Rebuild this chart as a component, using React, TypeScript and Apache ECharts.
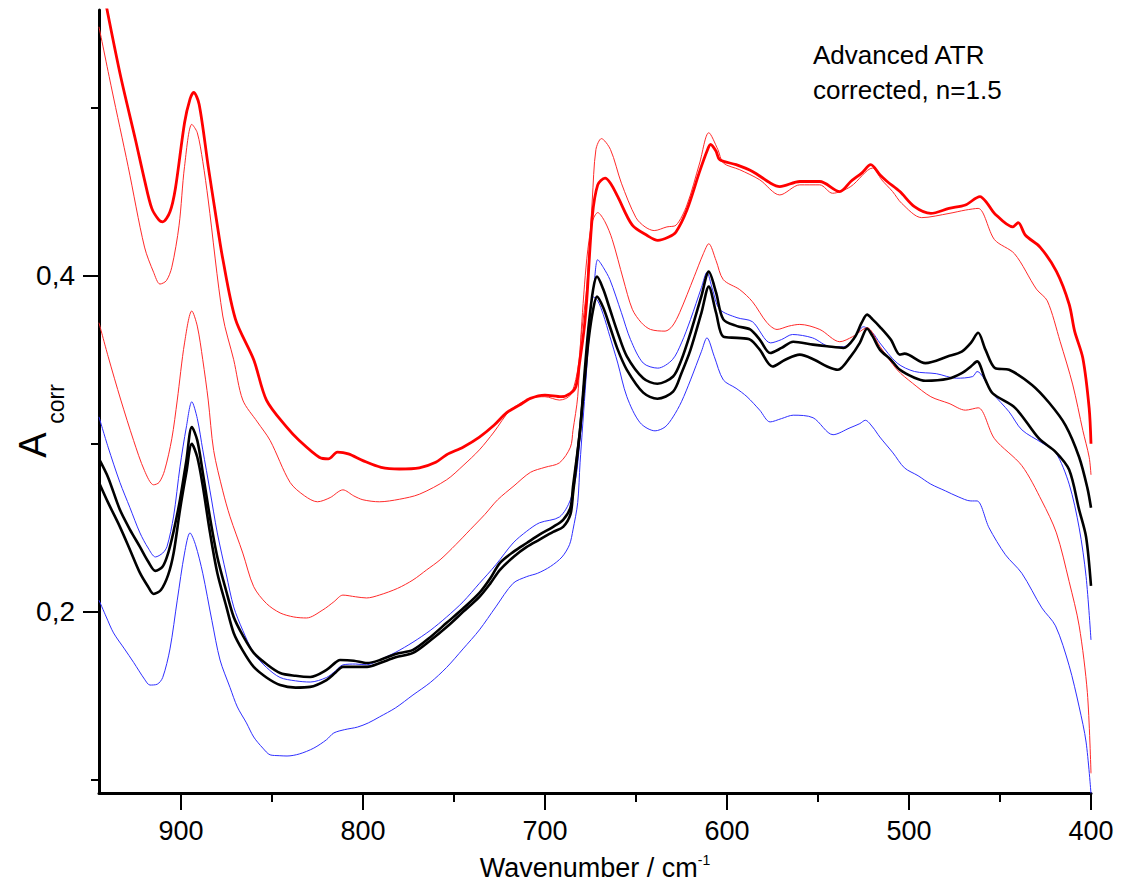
import React, { useEffect, useRef } from "react";
import * as echarts from "echarts";

// Wavenumber (cm-1) vs A_corr
const redThick: number[][] = [
  [945, 0.583], [940, 0.555], [933, 0.518], [925, 0.481], [920, 0.457], [916, 0.44], [912, 0.433], [910, 0.432],
  [906, 0.438], [903, 0.452], [898, 0.491], [895, 0.505], [893, 0.509], [890, 0.502], [885, 0.465], [881, 0.437],
  [877, 0.41], [870, 0.374], [860, 0.35], [853, 0.326], [842, 0.31], [835, 0.302], [824, 0.292], [819, 0.291],
  [814, 0.295], [808, 0.294], [800, 0.29], [790, 0.286], [780, 0.285], [769, 0.2857], [760, 0.289], [754, 0.2935],
  [745, 0.298], [736, 0.304], [728, 0.311], [721, 0.3185], [714, 0.323], [708, 0.327], [700, 0.329], [691, 0.328],
  [686, 0.33], [683, 0.334], [681, 0.348], [678.5, 0.368], [677, 0.386], [674, 0.435], [671, 0.454], [667, 0.458],
  [664, 0.455], [660, 0.447], [652, 0.43], [644, 0.424], [638, 0.421], [632, 0.423], [628, 0.426], [622, 0.439],
  [615, 0.462], [611, 0.474], [609, 0.478], [606, 0.474], [604, 0.469], [595, 0.466], [586, 0.462], [576, 0.455],
  [571, 0.453], [560, 0.456], [549, 0.456], [538, 0.45], [532, 0.456], [526, 0.461], [521, 0.466], [516, 0.46],
  [512, 0.456], [505, 0.45], [497, 0.441], [488, 0.437], [478, 0.44], [469, 0.442], [461, 0.447], [457, 0.443],
  [453, 0.437], [443, 0.429], [440, 0.4315], [436, 0.424], [428, 0.417], [419, 0.4025], [412, 0.383], [409, 0.367],
  [404.5, 0.351], [401, 0.321], [400, 0.3],
];

const redThin1: number[][] = [
  [945, 0.548], [938, 0.511], [929, 0.465], [920, 0.417], [915, 0.402], [911.5, 0.395], [908, 0.397], [905, 0.405],
  [901, 0.43], [898, 0.465], [894, 0.49], [891, 0.485], [888, 0.468], [885, 0.445], [877, 0.376], [871, 0.35],
  [866, 0.326], [858, 0.313], [851, 0.302], [840, 0.277], [832, 0.269], [825, 0.2655], [818, 0.268], [811, 0.2726],
  [805, 0.269], [800, 0.2667], [791, 0.2655], [780, 0.267], [769, 0.27], [754, 0.2786], [745, 0.287], [736, 0.2964],
  [728, 0.307], [719, 0.32], [708, 0.327], [700, 0.328], [692, 0.326], [686, 0.329], [682, 0.344], [680, 0.365],
  [677, 0.3935], [674, 0.445], [672, 0.475], [669, 0.4815], [664, 0.475], [658, 0.455], [650, 0.4345], [645, 0.429],
  [640, 0.4268], [633, 0.429], [628, 0.43], [622, 0.442], [615, 0.467], [610, 0.485], [605, 0.475], [602, 0.467],
  [593, 0.463], [582, 0.457], [571, 0.448], [560, 0.454], [549, 0.454], [542, 0.449], [532, 0.453], [520, 0.464],
  [515, 0.457], [509, 0.45], [504, 0.443], [493, 0.4345], [478, 0.437], [469, 0.439], [462, 0.44], [453, 0.4214],
  [442, 0.413], [430, 0.392], [424, 0.385], [417, 0.361], [410, 0.335], [404.5, 0.308], [401, 0.292], [400, 0.2815],
];

const redThin2: number[][] = [
  [945, 0.372], [940, 0.352], [933, 0.326], [926, 0.302], [920, 0.284], [915, 0.2756], [912, 0.277], [909, 0.284],
  [905, 0.303], [902, 0.326], [898, 0.36], [894, 0.379], [891, 0.37], [888, 0.35], [885, 0.326], [882, 0.296],
  [877, 0.272], [873, 0.2566], [866, 0.235], [860, 0.215], [853, 0.205], [845.5, 0.1994], [838, 0.197], [831, 0.1964],
  [822, 0.2012], [816, 0.206], [811, 0.21], [804, 0.209], [798, 0.2083], [791, 0.21], [781, 0.214], [772.5, 0.219],
  [765, 0.225], [757.6, 0.231], [749, 0.24], [741, 0.249], [733, 0.258], [726, 0.2667], [717, 0.275], [708, 0.283],
  [700, 0.286], [692, 0.2887], [686, 0.298], [684.6, 0.308], [682, 0.328], [680, 0.368], [677, 0.41], [674, 0.432],
  [671, 0.4375], [667, 0.432], [663, 0.4214], [657, 0.398], [652, 0.38], [647, 0.372], [642, 0.368], [634, 0.367],
  [630, 0.37], [626, 0.378], [618, 0.3994], [613, 0.413], [610, 0.419], [606, 0.409], [602, 0.3976], [593, 0.3917],
  [586, 0.3845], [578, 0.372], [572.5, 0.368], [566, 0.37], [560, 0.371], [549, 0.368], [538, 0.3607], [531, 0.3637],
  [523, 0.369], [516, 0.358], [506.5, 0.344], [498, 0.336], [488, 0.328], [478, 0.324], [469, 0.32], [462, 0.3214],
  [453, 0.303], [438, 0.287], [427, 0.266], [419, 0.247], [412, 0.218], [406.5, 0.1917], [402, 0.152], [400, 0.104],
];

const blueThin1: number[][] = [
  [945, 0.316], [940, 0.298], [933.5, 0.277], [928, 0.262], [922.5, 0.247], [918, 0.238], [914, 0.2327], [910, 0.235],
  [907.6, 0.239], [904, 0.257], [900.5, 0.2863], [897, 0.31], [894, 0.325], [891, 0.315], [888, 0.2964], [884, 0.272],
  [880, 0.247], [875, 0.222], [871, 0.203], [866, 0.189], [860, 0.1756], [853, 0.167], [845.5, 0.161], [837, 0.159],
  [829, 0.1583], [820, 0.161], [815, 0.165], [811, 0.1685], [804, 0.169], [798, 0.1685], [791, 0.1714], [782, 0.176],
  [772.5, 0.182], [763, 0.189], [754, 0.197], [745, 0.206], [736, 0.217], [727, 0.228], [717.5, 0.241], [710, 0.248],
  [703, 0.253], [692, 0.2565], [686, 0.2667], [682.4, 0.2845], [679, 0.328], [676.3, 0.368], [673, 0.395], [671, 0.4095],
  [668, 0.405], [664.3, 0.3976], [658, 0.378], [653, 0.362], [646, 0.348], [638, 0.345], [630, 0.35], [625, 0.36],
  [620, 0.374], [614, 0.393], [611, 0.402], [608, 0.392], [604, 0.38], [594.5, 0.375], [586, 0.3726], [576, 0.36],
  [570, 0.362], [564, 0.365], [553, 0.363], [543, 0.3577], [536, 0.3577], [530, 0.363], [525, 0.3696], [520, 0.366],
  [516, 0.36], [506.5, 0.348], [497, 0.343], [485, 0.3417], [474, 0.339], [465, 0.34], [462.6, 0.343], [454, 0.33],
  [445, 0.319], [438, 0.3083], [427, 0.3006], [419.5, 0.295], [412, 0.276], [406.5, 0.25], [402.7, 0.221], [400, 0.1833],
];

const blueThin2: number[][] = [
  [945, 0.207], [941, 0.197], [937, 0.1875], [931, 0.178], [926, 0.17], [920, 0.16], [917, 0.1565], [913, 0.157],
  [910, 0.161], [906, 0.178], [902, 0.207], [898, 0.235], [895, 0.247], [892, 0.24], [888, 0.223], [883, 0.195],
  [878.5, 0.1714], [873, 0.155], [869, 0.1435], [864, 0.134], [860, 0.1256], [855, 0.119], [851, 0.115], [846, 0.1145],
  [841.7, 0.1143], [835, 0.1155], [827, 0.119], [820, 0.124], [816, 0.128], [810, 0.13], [803, 0.1315], [797, 0.134],
  [791, 0.1375], [782, 0.143], [772.5, 0.1506], [763, 0.158], [754, 0.167], [745, 0.178], [736, 0.1893], [727, 0.203],
  [717.5, 0.217], [710, 0.221], [704, 0.223], [697, 0.227], [690.6, 0.2327], [686.5, 0.24], [684.6, 0.2488], [682, 0.265],
  [680.7, 0.2887], [678, 0.33], [676, 0.36], [673.6, 0.3875], [671, 0.385], [668, 0.377], [664.3, 0.3637], [660, 0.348],
  [655, 0.328], [647.7, 0.3125], [639.5, 0.3077], [634, 0.31], [629.6, 0.316], [625, 0.325], [620, 0.338], [614, 0.355],
  [611, 0.363], [607, 0.352], [602, 0.338], [595, 0.333], [589, 0.328], [582, 0.32], [576.3, 0.313], [570, 0.315],
  [563.6, 0.317], [552.7, 0.3155], [541.7, 0.3054], [532.4, 0.3095], [527, 0.312], [524, 0.314], [520, 0.31], [516, 0.304],
  [508.8, 0.2946], [502.5, 0.2857], [495, 0.281], [488, 0.276], [480, 0.272], [473, 0.2685], [466, 0.266], [462.6, 0.266],
  [456, 0.25], [447, 0.234], [438, 0.223], [427, 0.2024], [419.5, 0.1917], [412, 0.168], [406.5, 0.1435], [402.7, 0.1226],
  [400, 0.092],
];

const blackThick1: number[][] = [
  [945, 0.291], [940, 0.28], [933.5, 0.2607], [928, 0.249], [922.5, 0.2387], [918, 0.23], [914, 0.2244], [910, 0.227],
  [907, 0.235], [904, 0.248], [900.5, 0.2667], [897, 0.29], [894, 0.31], [891, 0.302], [888, 0.283], [884, 0.256],
  [880, 0.2327], [875, 0.212], [871, 0.197], [866, 0.186], [860, 0.1756], [853, 0.169], [845.5, 0.1637], [837, 0.162],
  [829, 0.1613], [820, 0.1655], [815, 0.17], [812.6, 0.1714], [805, 0.171], [797.7, 0.1696], [790.6, 0.1714], [782, 0.175],
  [772.5, 0.1774], [763, 0.185], [754, 0.1935], [745, 0.202], [736, 0.2113], [730, 0.22], [724.7, 0.2292], [717, 0.236],
  [710, 0.241], [703, 0.246], [695.5, 0.2506], [690, 0.2548], [686, 0.262], [684.6, 0.2744], [680.7, 0.3083], [678, 0.345],
  [676, 0.37], [673.5, 0.392], [671.4, 0.3994], [668, 0.392], [664.3, 0.38], [660, 0.366], [655, 0.352], [646, 0.339],
  [638.2, 0.3357], [629.6, 0.34], [625, 0.35], [620, 0.366], [614, 0.388], [610, 0.4024], [606, 0.39], [602, 0.374],
  [594.5, 0.37], [587.3, 0.368], [582, 0.362], [576.3, 0.354], [570, 0.357], [563.6, 0.3607], [552.7, 0.359], [545, 0.358],
  [536, 0.357], [530, 0.363], [526, 0.372], [523, 0.3768], [520, 0.374], [516, 0.3696], [510, 0.362], [505, 0.353],
  [502.5, 0.3536], [491, 0.348], [478.5, 0.352], [471, 0.3548], [466, 0.36], [462, 0.366], [458, 0.356], [452.7, 0.345],
  [445, 0.344], [432.4, 0.335], [423, 0.3244], [414, 0.311], [406.5, 0.292], [402, 0.2738], [400, 0.262],
];

const blackThick2: number[][] = [
  [945, 0.277], [940, 0.265], [933.5, 0.2506], [928, 0.237], [922.5, 0.2232], [918, 0.215], [915, 0.2107], [911, 0.213],
  [907, 0.222], [904, 0.235], [900.5, 0.2607], [897, 0.283], [894, 0.3], [891, 0.292], [888, 0.275], [884, 0.247],
  [880, 0.2232], [875, 0.203], [871, 0.1875], [866, 0.177], [860, 0.1673], [853, 0.161], [845.5, 0.1565], [837, 0.155],
  [829, 0.1554], [820, 0.1595], [815, 0.164], [811, 0.1673], [804, 0.1673], [797.7, 0.1673], [790.6, 0.1696], [782, 0.173],
  [772.5, 0.1756], [763, 0.183], [754, 0.191], [745, 0.2], [736, 0.209], [730, 0.217], [724.7, 0.225], [717, 0.233],
  [710, 0.2387], [703, 0.243], [695.5, 0.2476], [690, 0.2506], [686, 0.258], [684.6, 0.27], [680.7, 0.3083], [678, 0.34],
  [676, 0.362], [673.5, 0.38], [671.4, 0.3875], [668, 0.381], [664.3, 0.3696], [660, 0.356], [655, 0.344], [646, 0.3304],
  [638.2, 0.3268], [629.6, 0.331], [625, 0.342], [620, 0.356], [614, 0.378], [610, 0.3935], [606, 0.378], [602, 0.3637],
  [594.5, 0.363], [587.3, 0.362], [582, 0.356], [575, 0.346], [568, 0.35], [560, 0.353], [552, 0.35], [545, 0.346],
  [539, 0.344], [532, 0.352], [527, 0.36], [523, 0.3685], [520, 0.364], [516, 0.356], [510, 0.35], [505, 0.344],
  [497, 0.3393], [491, 0.3375], [478.5, 0.3387], [471, 0.342], [466, 0.346], [462.6, 0.349], [458, 0.338], [454, 0.33],
  [441.7, 0.3214], [428.5, 0.303], [419.5, 0.2952], [412, 0.2845], [406.5, 0.2607], [402.7, 0.2446], [400, 0.2155],
];

const xMajorTicks = [400, 500, 600, 700, 800, 900];
const xMinorTicks = [450, 550, 650, 750, 850];
const yMajorTicks = [0.2, 0.4];
const yMinorTicks = [0.1, 0.3, 0.5];
const xMin = 400;
const xMax = 945;
const yMin = 0.0923;
const yMax = 0.558;

const sans = "'Liberation Sans', Arial, sans-serif";

export default function App() {
  const ref = useRef<HTMLDivElement>(null);
  useEffect(() => {
    document.body.style.margin = "0";
    if (!ref.current) return;
    const chart = echarts.init(ref.current, undefined, { renderer: "svg" });
    const lineSeries = (data: number[][], color: string, width: number, z: number) => ({
      type: "line",
      data,
      xAxisIndex: 0,
      yAxisIndex: 0,
      showSymbol: false,
      smooth: 0.3,
      z,
      lineStyle: { color, width },
      emphasis: { disabled: true },
    });
    const baseX = {
      type: "value",
      inverse: true,
      min: xMin,
      max: xMax,
      position: "bottom",
      offset: 0,
      splitLine: { show: false },
    };
    const baseY = {
      type: "value",
      min: yMin,
      max: yMax,
      position: "left",
      offset: 0,
      splitLine: { show: false },
    };
    chart.setOption({
      animation: false,
      backgroundColor: "#ffffff",
      grid: { left: 99, right: 33, top: 10, bottom: 97, containLabel: false, outerBoundsMode: "none" },
      xAxis: [
        {
          ...baseX,
          axisLine: { show: true, lineStyle: { color: "#000", width: 3 } },
          axisTick: { show: true, customValues: xMajorTicks, length: 17, lineStyle: { color: "#000", width: 2 } },
          axisLabel: {
            show: true,
            customValues: xMajorTicks,
            margin: 24,
            fontSize: 27,
            fontFamily: sans,
            color: "#000",
          },
          name: "{a|Wavenumber / cm}{b|-1}",
          nameLocation: "middle",
          nameGap: 60,
          nameTextStyle: {
            color: "#000",
            rich: {
              a: { fontSize: 27, fontFamily: sans, color: "#000", lineHeight: 30 },
              b: { fontSize: 14, fontFamily: sans, color: "#000", verticalAlign: "top", lineHeight: 30 },
            },
          },
        },
        {
          ...baseX,
          axisLine: { show: false },
          axisTick: { show: true, customValues: xMinorTicks, length: 9, lineStyle: { color: "#000", width: 2 } },
          axisLabel: { show: false },
        },
      ],
      yAxis: [
        {
          ...baseY,
          axisLine: { show: true, lineStyle: { color: "#000", width: 3 } },
          axisTick: { show: true, customValues: yMajorTicks, length: 16, lineStyle: { color: "#000", width: 2 } },
          axisLabel: {
            show: true,
            customValues: yMajorTicks,
            margin: 24,
            fontSize: 28,
            fontFamily: sans,
            color: "#000",
            formatter: (v: number) => v.toFixed(1).replace(".", ","),
          },
        },
        {
          ...baseY,
          axisLine: { show: false },
          axisTick: { show: true, customValues: yMinorTicks, length: 8, lineStyle: { color: "#000", width: 2 } },
          axisLabel: { show: false },
        },
      ],
      graphic: [
        {
          type: "text",
          x: 33,
          y: 445,
          rotation: Math.PI / 2,
          style: { text: "A", fontSize: 38, fontFamily: sans, fill: "#000", align: "center", verticalAlign: "middle" },
        },
        {
          type: "text",
          x: 56,
          y: 404,
          rotation: Math.PI / 2,
          style: { text: "corr", fontSize: 23, fontFamily: sans, fill: "#000", align: "center", verticalAlign: "middle" },
        },
        {
          type: "text",
          left: 813,
          top: 37,
          style: {
            text: "Advanced ATR\ncorrected, n=1.5",
            fontSize: 26,
            lineHeight: 35,
            fontFamily: sans,
            fill: "#000",
          },
        },
      ],
      series: [
        lineSeries(blueThin2, "#2f2fff", 1, 2),
        lineSeries(blueThin1, "#2f2fff", 1, 2),
        lineSeries(redThin2, "#ff2a2a", 1, 2),
        lineSeries(redThin1, "#ff2a2a", 1, 2),
        lineSeries(blackThick2, "#000000", 2.6, 3),
        lineSeries(blackThick1, "#000000", 2.6, 3),
        lineSeries(redThick, "#ff0000", 2.8, 4),
      ],
    });
    return () => chart.dispose();
  }, []);
  return <div ref={ref} style={{ width: 1124, height: 890 }} />;
}
